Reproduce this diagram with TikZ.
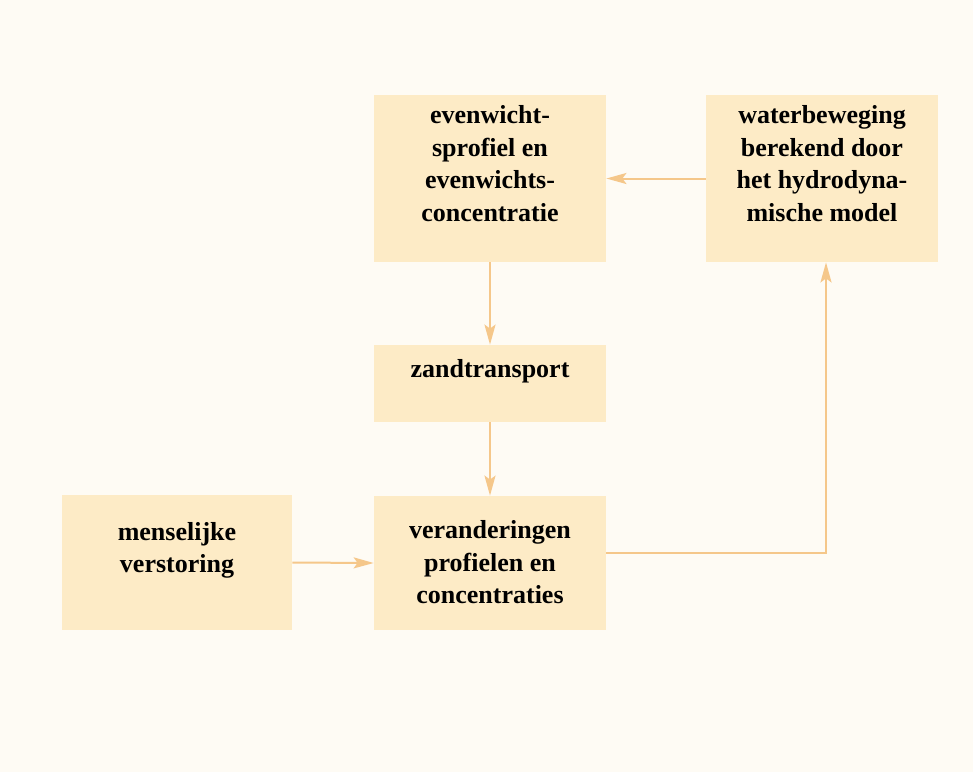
\documentclass[tikz,border=0pt]{standalone}
\usepackage{fontspec}
\setmainfont{Liberation Serif}
\usepackage{xcolor}
\usepackage{tikz}
\usetikzlibrary{arrows.meta,positioning,calc}

\definecolor{paper}{HTML}{FEFBF4}
\definecolor{boxfill}{HTML}{FDEBC6}
\definecolor{arrowcol}{HTML}{F5C78A}

\tikzset{
    blok/.style={fill=boxfill, minimum width=116pt, align=center,
        inner sep=1pt, text depth=15pt,
        font=\fontsize{13}{16.3}\selectfont\bfseries},
    pijl/.style={draw=arrowcol, line width=1pt,
        -{Stealth[length=10pt,width=5.5pt,inset=2pt]}}
}

\begin{document}
\begin{tikzpicture}[x=0.5pt,y=-0.5pt]
    \fill[paper] (0,0) rectangle (973,772);
    \useasboundingbox (0,0) rectangle (973,772);
    % boxes
    \node[blok, minimum height=83.5pt] (evenwicht) at (490,178.5) {evenwicht-\\sprofiel en\\evenwichts-\\concentratie};
    \node[blok, minimum height=83.5pt] (water) at (822,178.5) {waterbeweging\\berekend door\\het hydrodyna-\\mische model};
    \node[blok, minimum height=38.5pt] (zand) at (490,383.5) {zandtransport};
    \node[blok, minimum height=67pt, text depth=1pt] (verander) at (490,563) {veranderingen\\profielen en\\concentraties};
    \node[blok, minimum width=115pt, minimum height=67.5pt] (mens) at (177,562.5) {menselijke\\verstoring};
    % arrows
    \draw[pijl] (water.west) -- (evenwicht.east);
    \draw[pijl] (evenwicht.south) -- (zand.north);
    \draw[pijl] (zand.south) -- (verander.north);
    \draw[pijl] (mens.east) -- (verander.west);
    \draw[pijl] ([yshift=5pt]verander.east) -| ([xshift=2pt]water.south);
\end{tikzpicture}
\end{document}
